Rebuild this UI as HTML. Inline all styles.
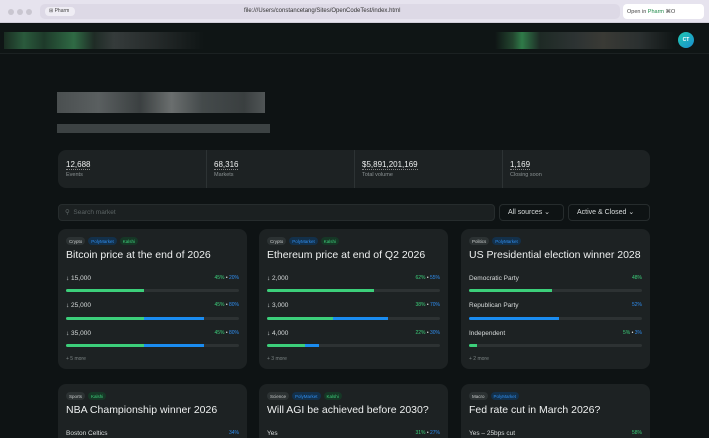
<!DOCTYPE html>
<html><head><meta charset="utf-8"><style>
*{box-sizing:border-box;margin:0;padding:0}
html,body{width:709px;height:438px;overflow:hidden}
body{background:#0e1314;font-family:"Liberation Sans",sans-serif;position:relative;color:#e6e8e8;line-height:1.15}
.a{position:absolute}
.chrome{left:0;top:0;width:709px;height:23px;background:#e6e3ee;border-bottom:1px solid #cfcdd8}
.dot{width:6px;height:6px;border-radius:50%;background:#c9c6d0;top:9px}
.url{left:40px;top:4px;width:580px;height:15px;background:#ddd9e6;border-radius:5px}
.card{background:#1d2223;border-radius:8px;overflow:hidden}
.tag{display:inline-block;vertical-align:top;font-size:4.5px;padding:1.5px 3px;border-radius:4px;margin-right:3px;background:#2c3233;color:#c8cccc;line-height:5px}
.tp{background:#13304a;color:#2f8ef0}.tk{background:#163726;color:#3ccf7a}
.title{font-size:10.5px;line-height:12px;color:#eef0f0;left:8px;top:20px;white-space:nowrap}
.row{left:8px;right:8px;display:flex;justify-content:space-between;align-items:center;height:9px}
.lab{font-size:6.5px;color:#d8dcdc}
.pct{font-size:5px}
.g{color:#3ccf7a}.b{color:#2f8ef0}
.bar{left:8px;right:8px;height:3px;background:#2d3233;border-radius:2px;overflow:hidden;display:flex}
.bar i{display:block;height:100%}
.bg{background:#3ccf7a}.bb{background:#1a8cf0}
.more{font-size:5px;color:#7c8484;left:8px;top:128px}
.sv{font-size:8px;color:#eef0f0;border-bottom:1px dotted #888;line-height:9px;display:inline-block}
.sl{font-size:5.5px;line-height:6px;color:#8b9293;margin-top:2px}
.tags{left:8px;top:8px;white-space:nowrap;font-size:0;line-height:0}
</style></head><body>
<div class="a chrome"></div>
<div class="a dot" style="left:8px"></div><div class="a dot" style="left:17px"></div><div class="a dot" style="left:26px"></div>
<div class="a url"></div>
<div class="a" style="left:45px;top:7px;width:30px;height:9px;background:#efedf4;border-radius:4px;font-size:5px;color:#444;padding:2px 4px;white-space:nowrap;line-height:5px">⊞ Pharm</div>
<div class="a" style="left:244px;top:8px;font-size:6px;color:#333;white-space:nowrap">file:///Users/constancetang/Sites/OpenCodeTest/index.html</div>
<div class="a" style="left:623px;top:4px;width:81px;height:15px;background:#fff;border-radius:4px;font-size:5.5px;color:#444;padding:5px 4px;line-height:6px;white-space:nowrap">Open in <span style="color:#1f8a4a">Pharm</span> ⌘O</div>
<div class="a" style="left:0;top:24px;width:709px;height:30px;background:#0f1515;border-bottom:1px solid #1b2122"></div>
<div class="a" style="left:4px;top:32px;width:200px;height:17px;background:linear-gradient(90deg,#1a2d22,#2a5a3c 10%,#1e3a2a 20%,#2f6a44 35%,#1f2c26 45%,#353b3b 55%,#262b2b 75%,#0f1515)"></div>
<div class="a" style="left:495px;top:32px;width:180px;height:17px;background:linear-gradient(90deg,#0f1515,#23462f 10%,#2f7a48 15%,#1e2a25 25%,#2d3333 45%,#3a3a35 60%,#2b3030 80%,#0f1515)"></div>
<div class="a" style="left:678px;top:32px;width:16px;height:16px;border-radius:50%;background:linear-gradient(135deg,#1fc8b0,#1a8ed0);font-size:5px;color:#fff;text-align:center;line-height:16px;font-weight:bold">CT</div>
<div class="a" style="left:57px;top:92px;width:208px;height:21px;background:linear-gradient(90deg,#4a4f50,#5a5f60 20%,#3b4041 40%,#6a6e6e 55%,#444a4b 70%,#3a3f40 90%,#505556)"></div>
<div class="a" style="left:57px;top:124px;width:213px;height:9px;background:#3c4243"></div>
<div class="a card" style="left:58px;top:150px;width:592px;height:38px"></div>
<div class="a" style="left:206px;top:150px;width:1px;height:38px;background:#2d3334"></div>
<div class="a" style="left:354px;top:150px;width:1px;height:38px;background:#2d3334"></div>
<div class="a" style="left:502px;top:150px;width:1px;height:38px;background:#2d3334"></div>
<div class="a" style="left:66px;top:158px;line-height:9px"><span class="sv">12,688</span><div class="sl">Events</div></div>
<div class="a" style="left:214px;top:158px;line-height:9px"><span class="sv">68,316</span><div class="sl">Markets</div></div>
<div class="a" style="left:362px;top:158px;line-height:9px"><span class="sv">$5,891,201,169</span><div class="sl">Total volume</div></div>
<div class="a" style="left:510px;top:158px;line-height:9px"><span class="sv">1,169</span><div class="sl">Closing soon</div></div>
<div class="a" style="left:58px;top:204px;width:437px;height:17px;background:#1b2021;border:1px solid #262c2d;border-radius:4px;font-size:6.5px;color:#5b6364;padding:4px 6px;line-height:8px">⚲ &nbsp;Search market</div>
<div class="a" style="left:499px;top:204px;width:65px;height:17px;border:1px solid #262c2d;border-radius:4px;font-size:7px;color:#d8dcdc;padding:4px 8px;line-height:8px;white-space:nowrap">All sources ⌄</div>
<div class="a" style="left:568px;top:204px;width:82px;height:17px;border:1px solid #262c2d;border-radius:4px;font-size:7px;color:#d8dcdc;padding:4px 8px;line-height:8px;white-space:nowrap">Active &amp; Closed ⌄</div>

<div class="a card" style="left:58px;top:229px;width:189px;height:140px">
<div class="a tags"><span class="tag">Crypto</span><span class="tag tp">PolyMarket</span><span class="tag tk">Kalshi</span></div>
<div class="a title">Bitcoin price at the end of 2026</div>
<div class="a row" style="top:45px"><span class="lab">↓ 15,000</span><span class="pct"><span class="g">45%</span> • <span class="b">20%</span></span></div>
<div class="a bar" style="top:60px"><i class="bg" style="width:45%"></i></div>
<div class="a row" style="top:72px"><span class="lab">↓ 25,000</span><span class="pct"><span class="g">45%</span> • <span class="b">80%</span></span></div>
<div class="a bar" style="top:88px"><i class="bg" style="width:45%"></i><i class="bb" style="width:35%"></i></div>
<div class="a row" style="top:100px"><span class="lab">↓ 35,000</span><span class="pct"><span class="g">45%</span> • <span class="b">80%</span></span></div>
<div class="a bar" style="top:115px"><i class="bg" style="width:45%"></i><i class="bb" style="width:35%"></i></div>
<div class="a more">+ 5 more</div>
</div>
<div class="a card" style="left:259px;top:229px;width:189px;height:140px">
<div class="a tags"><span class="tag">Crypto</span><span class="tag tp">PolyMarket</span><span class="tag tk">Kalshi</span></div>
<div class="a title">Ethereum price at end of Q2 2026</div>
<div class="a row" style="top:45px"><span class="lab">↓ 2,000</span><span class="pct"><span class="g">62%</span> • <span class="b">55%</span></span></div>
<div class="a bar" style="top:60px"><i class="bg" style="width:62%"></i></div>
<div class="a row" style="top:72px"><span class="lab">↓ 3,000</span><span class="pct"><span class="g">38%</span> • <span class="b">70%</span></span></div>
<div class="a bar" style="top:88px"><i class="bg" style="width:38%"></i><i class="bb" style="width:32%"></i></div>
<div class="a row" style="top:100px"><span class="lab">↓ 4,000</span><span class="pct"><span class="g">22%</span> • <span class="b">30%</span></span></div>
<div class="a bar" style="top:115px"><i class="bg" style="width:22%"></i><i class="bb" style="width:8%"></i></div>
<div class="a more">+ 3 more</div>
</div>
<div class="a card" style="left:461px;top:229px;width:189px;height:140px">
<div class="a tags"><span class="tag">Politics</span><span class="tag tp">PolyMarket</span></div>
<div class="a title">US Presidential election winner 2028</div>
<div class="a row" style="top:45px"><span class="lab">Democratic Party</span><span class="pct g">48%</span></div>
<div class="a bar" style="top:60px"><i class="bg" style="width:48%"></i></div>
<div class="a row" style="top:72px"><span class="lab">Republican Party</span><span class="pct b">52%</span></div>
<div class="a bar" style="top:88px"><i class="bb" style="width:52%"></i></div>
<div class="a row" style="top:100px"><span class="lab">Independent</span><span class="pct"><span class="g">5%</span> • <span class="b">3%</span></span></div>
<div class="a bar" style="top:115px"><i class="bg" style="width:4.5%"></i></div>
<div class="a more">+ 2 more</div>
</div>
<div class="a card" style="left:58px;top:384px;width:189px;height:70px">
<div class="a tags"><span class="tag">Sports</span><span class="tag tk">Kalshi</span></div>
<div class="a title">NBA Championship winner 2026</div>
<div class="a row" style="top:45px"><span class="lab">Boston Celtics</span><span class="pct b">34%</span></div>
</div>
<div class="a card" style="left:259px;top:384px;width:189px;height:70px">
<div class="a tags"><span class="tag">Science</span><span class="tag tp">PolyMarket</span><span class="tag tk">Kalshi</span></div>
<div class="a title">Will AGI be achieved before 2030?</div>
<div class="a row" style="top:45px"><span class="lab">Yes</span><span class="pct"><span class="g">31%</span> • <span class="b">27%</span></span></div>
</div>
<div class="a card" style="left:461px;top:384px;width:189px;height:70px">
<div class="a tags"><span class="tag">Macro</span><span class="tag tp">PolyMarket</span></div>
<div class="a title">Fed rate cut in March 2026?</div>
<div class="a row" style="top:45px"><span class="lab">Yes – 25bps cut</span><span class="pct g">58%</span></div>
</div>
</body></html>
